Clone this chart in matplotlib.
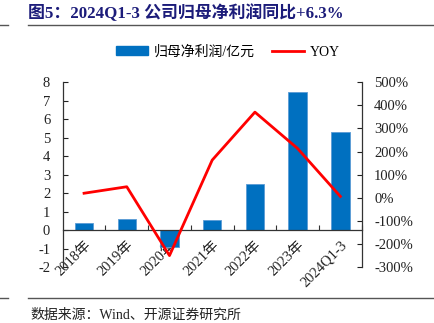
import matplotlib
matplotlib.use("Agg")
import matplotlib.pyplot as plt
import numpy as np
from matplotlib.lines import Line2D

plt.rcParams['font.family'] = ['Liberation Serif', 'Noto Sans CJK SC', 'DejaVu Sans']

categories = ['2018年', '2019年', '2020年', '2021年', '2022年', '2023年', '2024Q1-3']
profit = [0.41, 0.59, -0.89, 0.54, 2.49, 7.46, 5.33]
yoy = [20, 48, -249, 163, 370, 213, 6.3]
left_ticks = [-2, -1, 0, 1, 2, 3, 4, 5, 6, 7, 8]
right_ticks = [-300, -200, -100, 0, 100, 200, 300, 400, 500]

W, H = 435, 323
fig = plt.figure(figsize=(W / 100, H / 100), dpi=100)

left, right = 62.7 / W, 361.7 / W
bottom, top = 1 - 267.4 / H, 1 - 82 / H
ax = fig.add_axes([left, bottom, right - left, top - bottom])
ax2 = ax.twinx()

x = np.arange(len(categories))
bar_color = '#0070C0'
ax.bar(x, profit, width=0.43, color=bar_color, edgecolor='#5B9BD5', linewidth=0.6, zorder=2)
ax2.plot(x, yoy, color='#FF0000', linewidth=2.0, zorder=3)

ax.set_xlim(-0.5, len(categories) - 0.5)
ax.set_ylim(-2, 8)
ax.set_yticks(left_ticks)
ax.set_yticklabels([str(t) for t in left_ticks])
ax2.set_ylim(-300, 500)
ax2.set_yticks(right_ticks)
ax2.set_yticklabels([f'{t}%' for t in right_ticks])

for a in (ax, ax2):
    a.spines['top'].set_visible(False)
ax.spines['bottom'].set_position(('data', 0))
ax2.spines['bottom'].set_visible(False)
for s in ['left', 'bottom']:
    ax.spines[s].set_color('#333333')
    ax.spines[s].set_linewidth(0.9)
ax2.spines['right'].set_color('#333333')
ax2.spines['right'].set_linewidth(0.9)
ax2.spines['left'].set_visible(False)
ax.spines['right'].set_visible(False)

ax.tick_params(axis='y', direction='in', length=3.5, width=0.8, pad=9, labelsize=10.5, colors='#222222')
ax2.tick_params(axis='y', direction='in', length=3.5, width=0.8, pad=9, labelsize=10.5, colors='#222222')

ax.set_xticks(x)
ax.set_xticklabels(categories, rotation=45, ha='right', va='top', rotation_mode='anchor', fontsize=10.5, color='#222222')
ax.tick_params(axis='x', which='major', length=0, pad=6)
ax.set_xticks(np.arange(-0.5, len(categories), 1.0)[1:], minor=True)
ax.tick_params(axis='x', which='minor', direction='in', length=3.5, width=0.8, color='#333333')

# Legend
handles = [plt.Rectangle((0, 0), 1, 1, color=bar_color),
           Line2D([0], [0], color='#FF0000', linewidth=2.0)]
fig.legend(handles, ['归母净利润/亿元', 'YOY'], loc='center', bbox_to_anchor=(228 / W, 1 - 52 / H),
           ncol=2, frameon=False, fontsize=10, handlelength=2.3, handleheight=0.6,
           columnspacing=1.3, handletextpad=0.4)

# Title
title_color = '#1C1C7A'
fig.text(28 / W, 1 - 13 / H, '图5：2024Q1-3 公司归母净利润同比+6.3%', fontsize=12.2, fontweight='bold',
         color=title_color, ha='left', va='center')
fig.add_artist(Line2D([28 / W, 1.0], [1 - 25 / H] * 2, color='#555555', linewidth=1.0))
fig.add_artist(Line2D([0, 8 / W], [1 - 25 / H] * 2, color='#555555', linewidth=1.0))

# Bottom rule and source
fig.add_artist(Line2D([28 / W, 1.0], [1 - 298 / H] * 2, color='#555555', linewidth=1.0))
fig.add_artist(Line2D([0, 8 / W], [1 - 298 / H] * 2, color='#555555', linewidth=1.0))
fig.text(30 / W, 1 - 315 / H, '数据来源：Wind、开源证券研究所', fontsize=10, color='#222222', ha='left', va='center')

fig.savefig('out.png', dpi=100)
